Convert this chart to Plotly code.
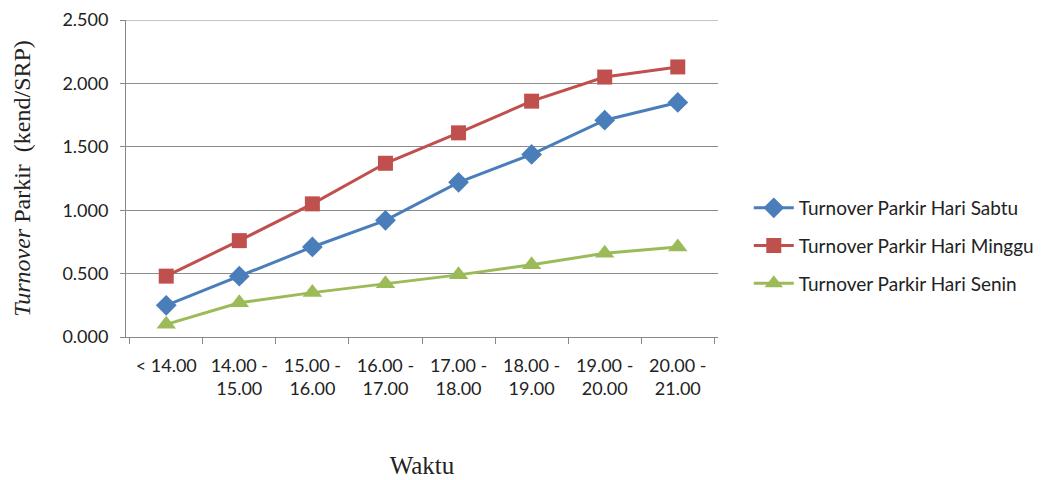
import plotly.graph_objects as go

# Time slots (x categories)
waktu = ["< 14.00", "14.00 -<br>15.00", "15.00 -<br>16.00", "16.00 -<br>17.00",
         "17.00 -<br>18.00", "18.00 -<br>19.00", "19.00 -<br>20.00", "20.00 -<br>21.00"]

# Parking turnover (kend/SRP) per day
sabtu = [0.25, 0.48, 0.71, 0.92, 1.22, 1.44, 1.71, 1.85]
minggu = [0.48, 0.76, 1.05, 1.37, 1.61, 1.86, 2.05, 2.13]
senin = [0.10, 0.27, 0.35, 0.42, 0.49, 0.57, 0.66, 0.71]

y_ticks = [0, 0.5, 1.0, 1.5, 2.0, 2.5]
y_tick_labels = ["0.000", "0.500", "1.000", "1.500", "2.000", "2.500"]

series = [
    ("Turnover Parkir Hari Sabtu", sabtu, "#4A7EBB", "diamond", 16),
    ("Turnover Parkir Hari Minggu", minggu, "#C0504D", "square", 15),
    ("Turnover Parkir Hari Senin", senin, "#9BBB59", "triangle-up", 17),
]

fig = go.Figure()
for i, (name, vals, color, symbol, size) in enumerate(series):
    fig.add_trace(go.Scatter(
        x=waktu, y=vals, name=name, mode="lines+markers", legendgroup=f"g{i}",
        line=dict(color=color, width=3),
        marker=dict(symbol=symbol, size=size, color=color),
    ))

sans = "Lato, Open Sans, Liberation Sans, sans-serif"
serif = "Liberation Serif, serif"
tick_font = dict(family=sans, size=18, color="#222222")

fig.update_layout(
    width=1043, height=480,
    margin=dict(l=126, r=325, t=20, b=143, autoexpand=False),
    paper_bgcolor="white", plot_bgcolor="white",
    showlegend=True,
    legend=dict(
        x=1.052, y=0.287, xanchor="left", yanchor="middle",
        font=dict(family=sans, size=19, color="#222222"),
        tracegroupgap=10, itemwidth=40,
    ),
    xaxis=dict(
        type="category", tickfont=tick_font, automargin=False,
        showline=True, linecolor="#888888", linewidth=1,
        ticks="outside", tickson="boundaries", ticklen=6, tickcolor="#888888",
        ticklabelstandoff=12,
        showgrid=False,
        title=dict(text="Waktu", font=dict(family=serif, size=25, color="#222222"),
                   standoff=58),
    ),
    yaxis=dict(
        range=[0, 2.5], tickvals=y_ticks, ticktext=y_tick_labels, tickfont=tick_font,
        automargin=False,
        showline=True, linecolor="#888888", linewidth=1,
        ticks="outside", ticklen=5, tickcolor="#888888",
        ticklabelstandoff=8,
        showgrid=True, gridcolor="#8C8C8C", gridwidth=1,
        zeroline=False,
        title=dict(text="<i>Turnover</i> Parkir  (kend/SRP)",
                   font=dict(family=serif, size=24, color="#222222"),
                   standoff=24),
    ),
)

# Top gridline at the upper end of the value range
fig.add_shape(type="line", xref="paper", yref="y", x0=0, x1=1, y0=2.5, y1=2.5,
              line=dict(color="#8C8C8C", width=1), layer="below")

fig.write_html("out.html")
